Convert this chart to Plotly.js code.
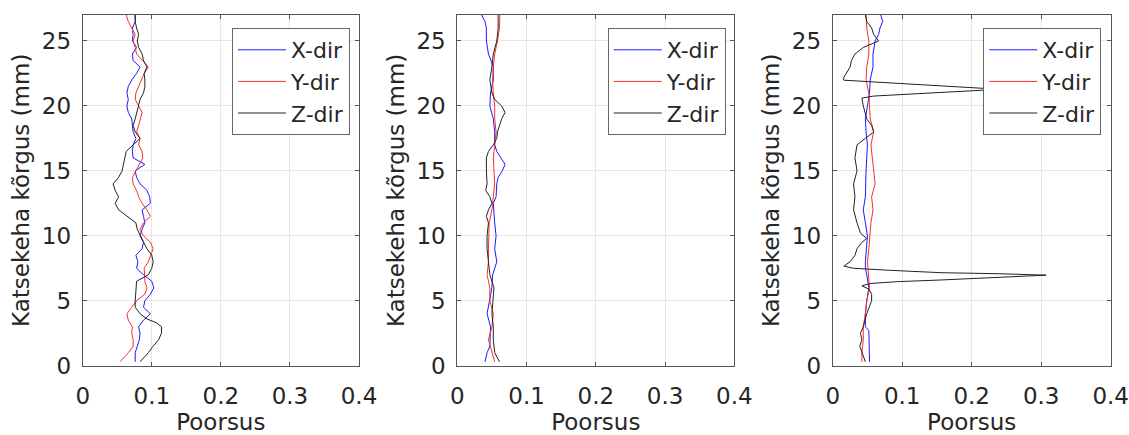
<!DOCTYPE html>
<html>
<head>
<meta charset="utf-8">
<script src="https://cdn.plot.ly/plotly-3.0.1.min.js"></script>
<style>html,body{margin:0;padding:0;background:#fff;}#chart{width:1129px;height:435px;}</style>
</head>
<body>
<div id="chart"></div>
<script>
// ---------- Data (Poorsus vs Katsekeha kõrgus, mm) ----------
const seriesNames = ["X-dir", "Y-dir", "Z-dir"];
const seriesColors = ["#1a1aff", "#ff2a2a", "#222222"];

// Subplot 1
const h1XY = [0.3,1,1.5,2,2.5,3,3.5,4,4.5,5,5.5,6,6.5,7,7.5,8,8.5,9,9.5,10,10.5,11,11.5,12,12.5,13,13.5,14,14.5,15,15.5,16,16.5,17,17.5,18,18.5,19,19.5,20,20.5,21,21.5,22,22.5,23,23.5,24,24.5,25,25.5,26,26.5,27];
const p1X = [0.076,0.076,0.079,0.082,0.083,0.081,0.088,0.098,0.088,0.09,0.098,0.103,0.1,0.088,0.078,0.08,0.077,0.086,0.088,0.083,0.086,0.09,0.088,0.086,0.098,0.097,0.093,0.083,0.078,0.076,0.09,0.073,0.072,0.073,0.077,0.073,0.072,0.071,0.066,0.064,0.066,0.064,0.066,0.071,0.078,0.083,0.073,0.072,0.078,0.072,0.073,0.072,0.076,0.076];
const p1Y = [0.054,0.066,0.073,0.073,0.071,0.072,0.066,0.064,0.071,0.078,0.09,0.093,0.09,0.09,0.089,0.095,0.098,0.102,0.098,0.088,0.083,0.088,0.098,0.093,0.086,0.081,0.078,0.073,0.072,0.077,0.083,0.087,0.086,0.081,0.083,0.078,0.081,0.083,0.086,0.081,0.076,0.077,0.081,0.086,0.089,0.095,0.086,0.078,0.076,0.073,0.076,0.071,0.066,0.063];
const h1Z = [0.3,0.7,1,1.5,2,2.5,3,3.3,3.6,4,4.5,5,5.5,6,6.5,7,7.5,8,8.5,9,9.5,10,10.5,11,11.5,12,12.5,13,13.5,14,14.5,15,15.5,16,16.5,17,17.5,18,18.5,19,19.5,20,20.5,21,21.5,22,22.5,23,23.5,24,24.5,25,25.5,26,26.5,27];
const p1Z = [0.083,0.09,0.095,0.102,0.11,0.114,0.114,0.107,0.093,0.083,0.076,0.076,0.077,0.078,0.078,0.095,0.1,0.102,0.1,0.093,0.088,0.083,0.079,0.077,0.064,0.052,0.047,0.052,0.047,0.044,0.052,0.057,0.059,0.061,0.063,0.073,0.083,0.076,0.073,0.076,0.078,0.081,0.083,0.088,0.09,0.09,0.089,0.093,0.088,0.086,0.081,0.079,0.081,0.078,0.076,0.076];

// Subplot 2
const h2X = [0.3,1,1.5,2,3,4,5,6,7,8,9,10,11,12,12.5,13,14,14.5,15,15.5,16,16.5,17,18,19,20,21,22,23,24,25,26,26.5,27];
const p2X = [0.04,0.043,0.047,0.047,0.048,0.043,0.047,0.05,0.051,0.057,0.054,0.056,0.054,0.052,0.052,0.056,0.057,0.059,0.065,0.069,0.0625,0.057,0.054,0.054,0.052,0.047,0.048,0.052,0.052,0.045,0.042,0.042,0.04,0.035];
const h2Y = [0.3,1,2,3,4,5,6,7,8,9,10,11,12,13,14,15,16,17,18,19,20,21,22,23,24,25,26,27];
const p2Y = [0.054,0.05,0.045,0.05,0.052,0.047,0.047,0.043,0.045,0.045,0.045,0.046,0.05,0.052,0.054,0.053,0.052,0.054,0.056,0.054,0.054,0.052,0.051,0.052,0.054,0.058,0.061,0.0615];
const h2Z = [0.3,1,2,3,4,5,6,7,8,9,10,11,11.5,12,12.5,13,13.5,14,15,16,16.5,17,17.5,18,19,19.5,20,20.5,21,22,23,24,25,26,27];
const p2Z = [0.061,0.054,0.052,0.052,0.05,0.052,0.053,0.047,0.045,0.043,0.043,0.045,0.042,0.045,0.05,0.047,0.041,0.043,0.042,0.042,0.045,0.052,0.057,0.058,0.064,0.069,0.064,0.054,0.05,0.047,0.05,0.052,0.057,0.059,0.059];

// Subplot 3
const h3X = [0.3,1,2,2.7,3,4,5,6,7,7.5,8,9,10,11,12,13,14,15,16,17,18,19,20,21,22,23,24,25,25.5,26,26.5,27];
const p3X = [0.053,0.053,0.053,0.052,0.047,0.047,0.049,0.052,0.049,0.047,0.047,0.049,0.05,0.047,0.044,0.047,0.047,0.048,0.049,0.05,0.048,0.047,0.05,0.053,0.054,0.058,0.058,0.061,0.066,0.068,0.072,0.069];
const h3Y = [0.3,1,2,3,4,5,6,7,8,9,10,11,12,13,14,15,16,17,18,19,20,21,22,23,24,25,26,27];
const p3Y = [0.042,0.042,0.044,0.044,0.047,0.049,0.053,0.052,0.05,0.052,0.053,0.055,0.058,0.056,0.061,0.059,0.056,0.055,0.059,0.054,0.053,0.052,0.048,0.049,0.052,0.052,0.049,0.048];
const h3Z = [0.3,1,1.5,2,2.5,3,4,5,5.5,5.9,6.15,6.33,6.47,6.6,6.78,6.97,7.08,7.16,7.35,7.5,7.67,8,8.5,9,9.5,9.8,10.2,11,12,13,14,15,16,17,17.5,18,18.5,19,20,20.6,20.76,21.0,21.22,21.28,21.35,21.65,21.9,21.98,22.1,22.5,23,23.5,24,24.5,25,25.5,26,26.5,27];
const p3Z = [0.047,0.042,0.039,0.042,0.04,0.044,0.049,0.056,0.056,0.052,0.042,0.054,0.093,0.156,0.24,0.307,0.24,0.156,0.08,0.03,0.016,0.025,0.032,0.035,0.042,0.049,0.04,0.035,0.03,0.032,0.03,0.035,0.032,0.035,0.047,0.059,0.056,0.049,0.044,0.042,0.059,0.14,0.218,0.24,0.218,0.12,0.03,0.016,0.015,0.02,0.025,0.027,0.032,0.044,0.066,0.059,0.056,0.049,0.047];

const xTicks = [0, 0.1, 0.2, 0.3, 0.4];
const yTicks = [0, 5, 10, 15, 20, 25];
const xTitle = "Poorsus";
const yTitle = "Katsekeha kõrgus (mm)";

// ---------- Build ----------
const panels = [
  {h: [h1XY, h1XY, h1Z], p: [p1X, p1Y, p1Z]},
  {h: [h2X, h2Y, h2Z], p: [p2X, p2Y, p2Z]},
  {h: [h3X, h3Y, h3Z], p: [p3X, p3Y, p3Z]}
];
const W = 1129, H = 435;
const xDomains = [[82.7/W, 359/W], [457.3/W, 734.3/W], [832.7/W, 1110.7/W]];
const yDomain = [1 - 365.7/H, 1 - 15/H];
const legendX = [232/W, 607.7/W, 983.3/W];
const FONT = "DejaVu Sans";

const traces = [];
panels.forEach((pan, i) => {
  const sfx = i === 0 ? "" : String(i + 1);
  for (let s = 0; s < 3; s++) {
    traces.push({
      type: "scatter", mode: "lines",
      x: pan.p[s], y: pan.h[s],
      name: seriesNames[s],
      line: {color: seriesColors[s], width: 1},
      xaxis: "x" + sfx, yaxis: "y" + sfx,
      legend: "legend" + sfx,
      hoverinfo: "skip"
    });
  }
});

const axCommon = {
  showline: true, linecolor: "#555555", linewidth: 1, mirror: "ticks",
  ticks: "inside", ticklen: 4, tickcolor: "#555555",
  showgrid: true, gridcolor: "#e6e6e6", gridwidth: 1, zeroline: false,
  tickfont: {family: FONT, size: 23, color: "#262626"}
};
const layout = {
  width: W, height: H,
  margin: {l: 0, r: 0, t: 0, b: 0},
  paper_bgcolor: "#ffffff", plot_bgcolor: "#ffffff",
  showlegend: true
};
for (let i = 0; i < 3; i++) {
  const sfx = i === 0 ? "" : String(i + 1);
  layout["xaxis" + sfx] = Object.assign({}, axCommon, {
    domain: xDomains[i], range: [0, 0.4], tickvals: xTicks, ticktext: xTicks.map(String),
    anchor: "y" + sfx, ticklabelstandoff: 10,
    title: {text: xTitle, font: {family: FONT, size: 23, color: "#262626"}, standoff: 0}
  });
  layout["yaxis" + sfx] = Object.assign({}, axCommon, {
    domain: yDomain, range: [0, 27], tickvals: yTicks, ticktext: yTicks.map(String),
    anchor: "x" + sfx, ticklabelstandoff: 6,
    title: {text: yTitle, font: {family: FONT, size: 23, color: "#262626"}, standoff: 5}
  });
  layout["legend" + sfx] = {
    x: legendX[i], y: 1 - 28/H, xanchor: "left", yanchor: "top",
    xref: "paper", yref: "paper",
    bgcolor: "#ffffff", bordercolor: "#666666", borderwidth: 1,
    font: {family: FONT, size: 22, color: "#262626"},
    itemwidth: 48, tracegroupgap: 0
  };
}

Plotly.newPlot("chart", traces, layout, {staticPlot: true, displayModeBar: false});
</script>
</body>
</html>
